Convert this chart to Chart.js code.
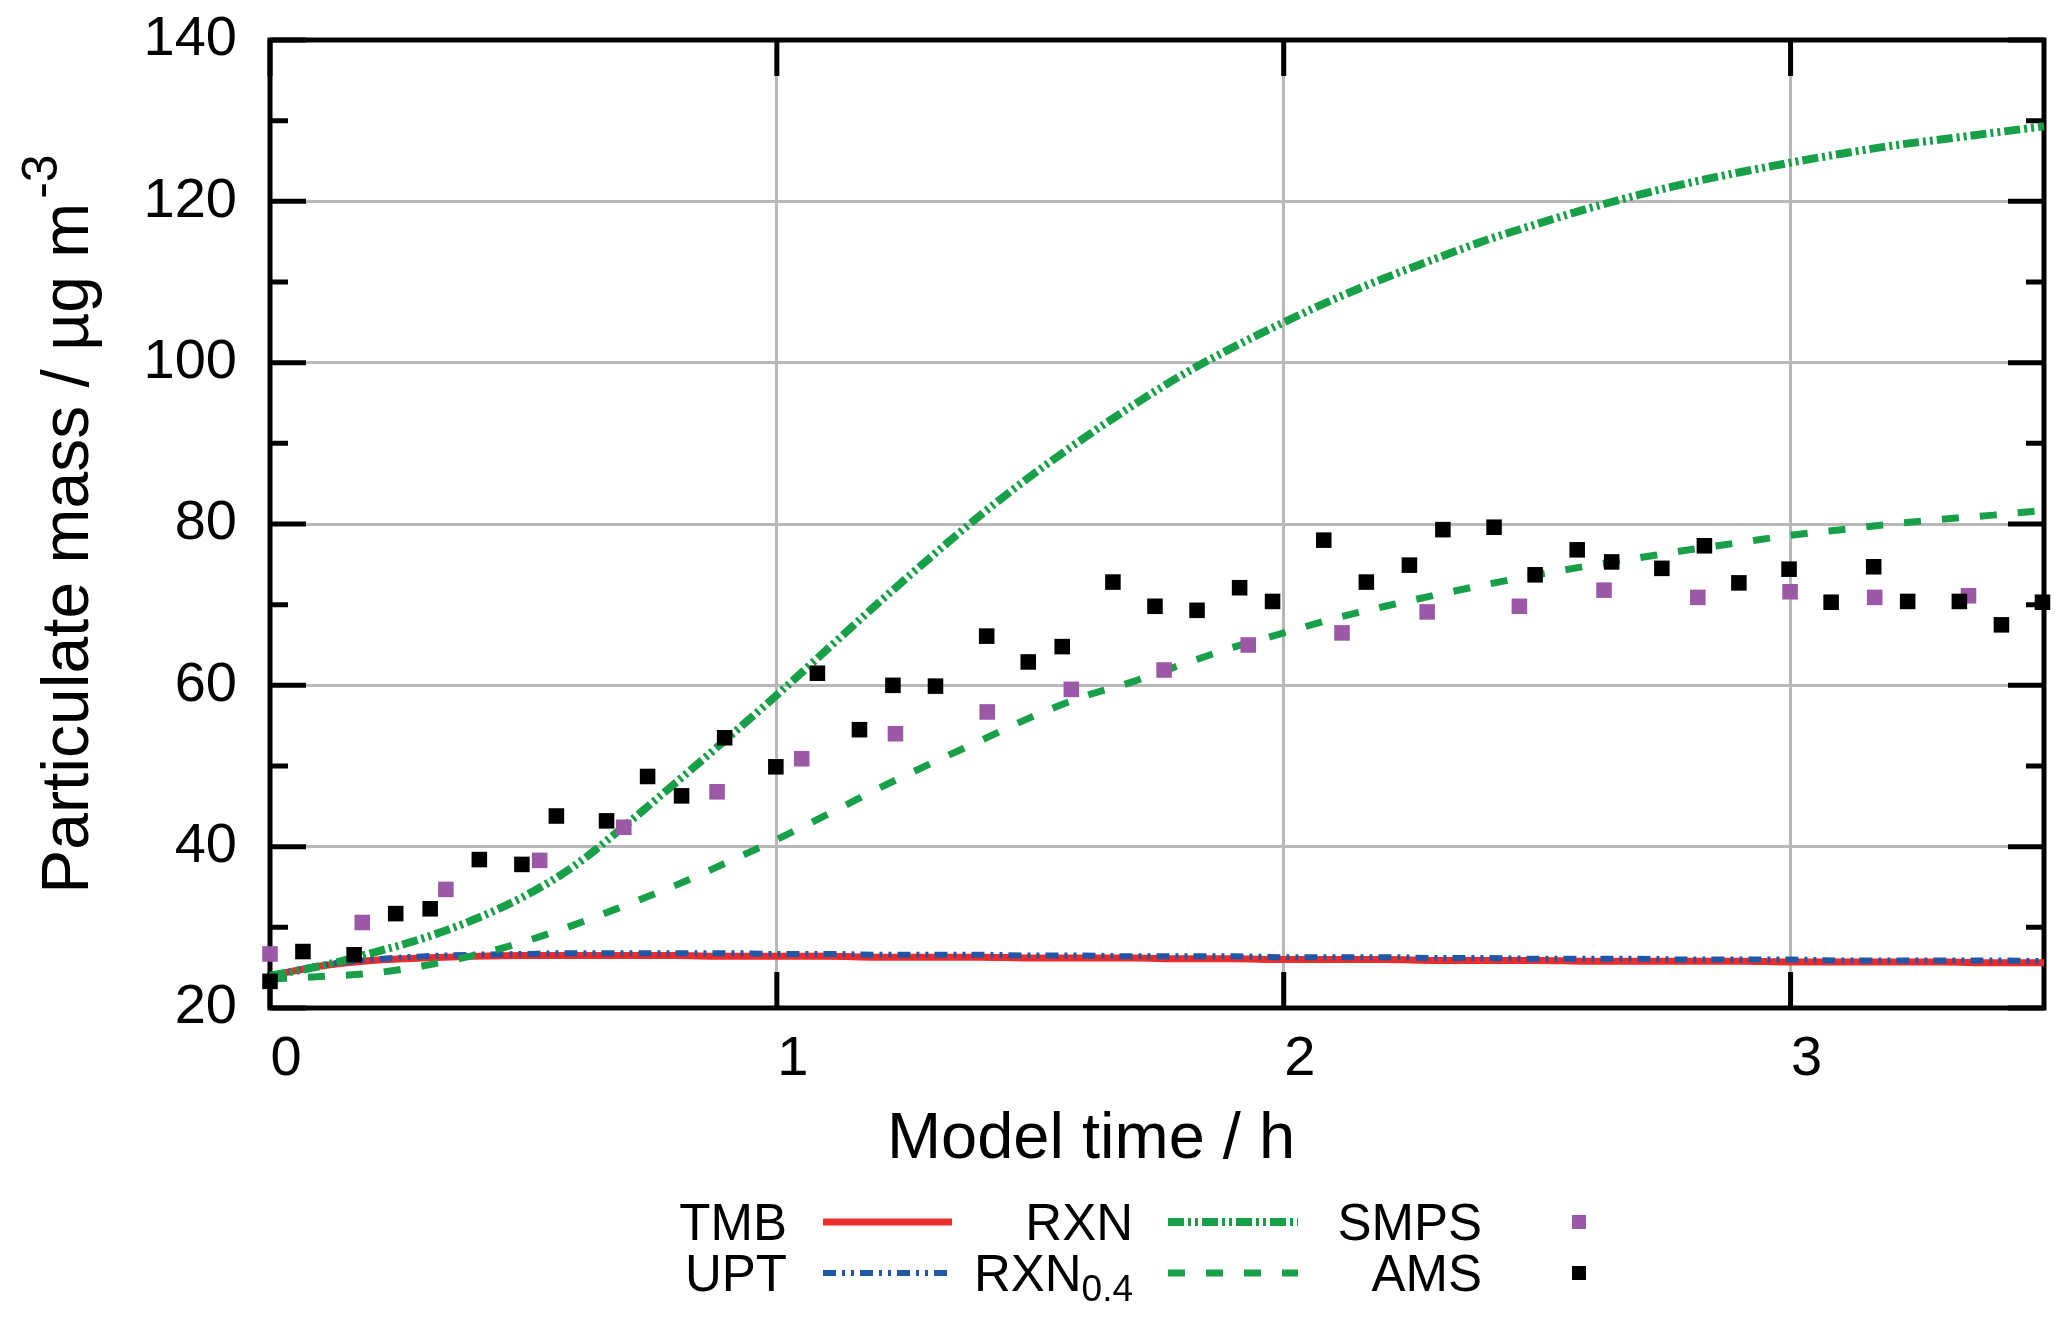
<!DOCTYPE html>
<html>
<head>
<meta charset="utf-8">
<script src="https://cdn.jsdelivr.net/npm/chart.js@4.4.1/dist/chart.umd.min.js"></script>
<style>
  html, body { margin: 0; padding: 0; background: #ffffff; }
  #wrap { width: 2067px; height: 1319px; position: relative; }
</style>
</head>
<body>
<div id="wrap"><canvas id="c"></canvas></div>
<script>
// ---------------- data ----------------
const modelTime = [0.0, 0.1, 0.2, 0.3, 0.4, 0.5, 0.6, 0.7, 0.8, 0.9,
                   1.0, 1.1, 1.2, 1.3, 1.4, 1.5, 1.6, 1.7, 1.8, 1.9,
                   2.0, 2.1, 2.2, 2.3, 2.4, 2.5, 2.6, 2.7, 2.8, 2.9,
                   3.0, 3.1, 3.2, 3.3, 3.4, 3.5];

const tmbMass = [24.0, 25.2, 25.9, 26.2, 26.4, 26.5, 26.5, 26.5, 26.5, 26.4,
                 26.4, 26.4, 26.3, 26.3, 26.3, 26.2, 26.2, 26.2, 26.1, 26.1,
                 26.0, 26.0, 26.0, 25.9, 25.9, 25.9, 25.8, 25.8, 25.8, 25.8,
                 25.7, 25.7, 25.7, 25.7, 25.6, 25.6];

const uptMass = [24.0, 25.3, 26.0, 26.4, 26.6, 26.7, 26.8, 26.8, 26.8, 26.8,
                 26.7, 26.7, 26.6, 26.6, 26.6, 26.5, 26.5, 26.4, 26.4, 26.4,
                 26.3, 26.3, 26.3, 26.2, 26.2, 26.1, 26.1, 26.1, 26.0, 26.0,
                 26.0, 25.9, 25.9, 25.9, 25.9, 25.8];

const rxnMass = [24.0, 25.2, 26.8, 28.6, 30.9, 33.8, 37.6, 42.6, 47.9, 53.3,
                 58.8, 64.5, 70.2, 75.7, 81.0, 85.9, 90.4, 94.6, 98.5, 101.9,
                 105.0, 107.9, 110.5, 112.9, 115.2, 117.2, 119.1, 120.8, 122.3, 123.6,
                 124.8, 125.9, 126.9, 127.7, 128.5, 129.3];

const rxn04Mass = [23.6, 23.9, 24.3, 25.2, 26.5, 28.2, 30.3, 32.7, 35.2, 38.0,
                   40.9, 44.0, 47.2, 50.2, 53.1, 56.0, 58.5, 60.4, 62.6, 64.7,
                   66.5, 68.3, 69.8, 71.2, 72.5, 73.7, 74.8, 75.8, 76.8, 77.7,
                   78.6, 79.3, 80.0, 80.6, 81.1, 81.7];

const smpsTime = [0.0, 0.182, 0.347, 0.532, 0.698, 0.882, 1.049, 1.234, 1.415, 1.581,
                  1.764, 1.930, 2.115, 2.283, 2.465, 2.632, 2.817, 2.999, 3.166, 3.351];
const smpsMass = [26.7, 30.6, 34.7, 38.3, 42.4, 46.8, 50.9, 54.0, 56.7, 59.5,
                  61.9, 65.0, 66.5, 69.1, 69.8, 71.8, 70.9, 71.6, 70.9, 71.1];

const amsTime = [0.0, 0.065, 0.166, 0.248, 0.316, 0.413, 0.497, 0.565, 0.664, 0.745,
                 0.812, 0.897, 0.998, 1.080, 1.163, 1.229, 1.313, 1.414, 1.496, 1.563,
                 1.663, 1.746, 1.829, 1.913, 1.978, 2.079, 2.163, 2.248, 2.314, 2.415,
                 2.496, 2.579, 2.647, 2.746, 2.830, 2.898, 2.997, 3.080, 3.164, 3.231,
                 3.333, 3.416, 3.497];
const amsMass = [23.3, 27.0, 26.6, 31.7, 32.3, 38.4, 37.8, 43.8, 43.2, 48.7,
                 46.3, 53.5, 49.9, 61.5, 54.5, 60.0, 59.9, 66.1, 62.9, 64.8,
                 72.8, 69.8, 69.3, 72.1, 70.4, 78.0, 72.8, 74.9, 79.3, 79.6,
                 73.7, 76.8, 75.3, 74.5, 77.3, 72.7, 74.4, 70.3, 74.7, 70.4,
                 70.4, 67.5, 70.3];

const xTickValues = [0, 1, 2, 3];
const yTickValues = [20, 40, 60, 80, 100, 120, 140];
const yMinorTickValues = [30, 50, 70, 90, 110, 130];

const xTitle = 'Model time / h';
const yTitleMain = 'Particulate mass / µg m';
const yTitleSup = '-3';

// ---------------- helpers ----------------
const pairs = (xs, ys) => xs.map((x, i) => ({ x: x, y: ys[i] }));
const FONT = "'Liberation Sans', Arial, Helvetica, sans-serif";
Chart.defaults.font.family = FONT;
Chart.defaults.color = '#000000';

// frame + inward tick marks (gnuplot style)
const frameTicks = {
  id: 'frameTicks',
  beforeDatasetsDraw(chart) {
    const { ctx, chartArea: a, scales } = chart;
    const xs = scales.x, ys = scales.y;
    ctx.save();
    ctx.strokeStyle = '#000';
    ctx.lineWidth = 5;
    ctx.lineCap = 'butt';
    ctx.beginPath();
    yTickValues.forEach(v => {
      const p = ys.getPixelForValue(v);
      ctx.moveTo(a.left, p); ctx.lineTo(a.left + 36, p);
      ctx.moveTo(a.right, p); ctx.lineTo(a.right - 36, p);
    });
    yMinorTickValues.forEach(v => {
      const p = ys.getPixelForValue(v);
      ctx.moveTo(a.left, p); ctx.lineTo(a.left + 18, p);
      ctx.moveTo(a.right, p); ctx.lineTo(a.right - 18, p);
    });
    xTickValues.forEach(v => {
      const p = xs.getPixelForValue(v);
      ctx.moveTo(p, a.bottom); ctx.lineTo(p, a.bottom - 36);
      ctx.moveTo(p, a.top); ctx.lineTo(p, a.top + 36);
    });
    ctx.stroke();
    ctx.lineJoin = 'miter';
    ctx.strokeRect(a.left, a.top, a.right - a.left, a.bottom - a.top);
    ctx.restore();
  }
};

// axis titles (y title has a real superscript)
const axisTitles = {
  id: 'axisTitles',
  afterDraw(chart) {
    const ctx = chart.ctx;
    const a = chart.chartArea;
    ctx.save();
    ctx.fillStyle = '#000';
    ctx.textBaseline = 'alphabetic';
    // x title
    ctx.font = '65px ' + FONT;
    ctx.textAlign = 'center';
    ctx.fillText(xTitle, 1091, 1158);
    // y title
    const mainFont = '66px ' + FONT, supFont = '50px ' + FONT;
    ctx.font = mainFont;
    const wMain = ctx.measureText(yTitleMain).width;
    ctx.font = supFont;
    const wSup = ctx.measureText(yTitleSup).width;
    const total = wMain + 4 + wSup;
    ctx.translate(88, (a.top + a.bottom) / 2);
    ctx.rotate(-Math.PI / 2);
    ctx.textAlign = 'left';
    ctx.font = mainFont;
    ctx.fillText(yTitleMain, -total / 2, 0);
    ctx.font = supFont;
    ctx.fillText(yTitleSup, -total / 2 + wMain + 4, -31);
    ctx.restore();
  }
};

// gnuplot-style key: right-aligned label followed by sample
const keyLayout = {
  fontSize: 51, subFontSize: 37,
  rows: [1222, 1273],
  columns: [
    { labelRight: 787, sampleFrom: 823, sampleTo: 952, labels: ['TMB', 'UPT'] },
    { labelRight: 1133, sampleFrom: 1168, sampleTo: 1298, labels: ['RXN', 'RXN0.4'] },
    { labelRight: 1482, markerX: 1579, labels: ['SMPS', 'AMS'] }
  ]
};
const keyPlugin = {
  id: 'keyPlugin',
  afterDraw(chart) {
    const ctx = chart.ctx;
    const sets = chart.data.datasets;
    ctx.save();
    keyLayout.columns.forEach(col => {
      col.labels.forEach((lab, r) => {
        const ds = sets.find(d => d.label === lab);
        const y = keyLayout.rows[r];
        const base = y + 0.358 * keyLayout.fontSize;
        ctx.fillStyle = '#000';
        ctx.textAlign = 'right';
        ctx.textBaseline = 'alphabetic';
        let right = col.labelRight;
        let main = lab;
        if (ds.legendSub) {
          main = lab.slice(0, lab.length - ds.legendSub.length);
          ctx.font = keyLayout.subFontSize + 'px ' + FONT;
          const w = ctx.measureText(ds.legendSub).width;
          ctx.fillText(ds.legendSub, right, base + 10);
          right -= w;
        }
        ctx.font = keyLayout.fontSize + 'px ' + FONT;
        ctx.fillText(main, right, base);
        if (ds.showLine) {
          ctx.strokeStyle = ds.borderColor;
          ctx.lineWidth = ds.borderWidth;
          ctx.lineCap = 'butt';
          ctx.setLineDash(ds.borderDash || []);
          ctx.beginPath();
          ctx.moveTo(col.sampleFrom, y);
          ctx.lineTo(col.sampleTo, y);
          ctx.stroke();
          ctx.setLineDash([]);
        } else {
          const s = 7;
          ctx.fillStyle = ds.backgroundColor;
          ctx.fillRect(col.markerX - s, y - s, 2 * s, 2 * s);
        }
      });
    });
    ctx.restore();
  }
};

const lineBase = { showLine: true, pointRadius: 0, pointHoverRadius: 0, fill: false,
                   cubicInterpolationMode: 'monotone', clip: false, borderCapStyle: 'butt' };

new Chart(document.getElementById('c'), {
  type: 'scatter',
  data: {
    datasets: [
      { label: 'AMS', data: pairs(amsTime, amsMass), showLine: false, pointStyle: 'rect',
        pointRadius: 11, pointHoverRadius: 11, backgroundColor: '#000000', borderColor: '#000000',
        borderWidth: 0, order: 0, clip: false },
      { label: 'SMPS', data: pairs(smpsTime, smpsMass), showLine: false, pointStyle: 'rect',
        pointRadius: 11, pointHoverRadius: 11, backgroundColor: '#9b58a6', borderColor: '#9b58a6',
        borderWidth: 0, order: 1, clip: false },
      Object.assign({ label: 'RXN0.4', legendSub: '0.4', data: pairs(modelTime, rxn04Mass),
        borderColor: '#17a048', borderWidth: 7, borderDash: [17, 21], order: 2 }, lineBase),
      Object.assign({ label: 'RXN', data: pairs(modelTime, rxnMass),
        borderColor: '#17a048', borderWidth: 8, borderDash: [16, 4, 3, 4, 3, 4], order: 3 }, lineBase),
      Object.assign({ label: 'UPT', data: pairs(modelTime, uptMass),
        borderColor: '#2156a6', borderWidth: 6, borderDash: [13, 6, 3, 6, 3, 6], order: 4 }, lineBase),
      Object.assign({ label: 'TMB', data: pairs(modelTime, tmbMass),
        borderColor: '#ee2b2b', borderWidth: 7, order: 5 }, lineBase)
    ]
  },
  options: {
    responsive: true,
    maintainAspectRatio: false,
    animation: false,
    events: [],
    layout: { padding: { left: 0, right: 23, top: 40, bottom: 131 } },
    plugins: { legend: { display: false }, tooltip: { enabled: false } },
    scales: {
      x: {
        type: 'linear', min: 0, max: 3.5,
        afterBuildTicks: s => { s.ticks = xTickValues.map(v => ({ value: v })); },
        afterFit: s => { s.height = 180; s.paddingLeft = 0; s.paddingRight = 0; },
        grid: { color: '#b8b8b8', lineWidth: 3, drawTicks: false },
        border: { display: false },
        ticks: { font: { size: 56 }, color: '#000', padding: 18, labelOffset: 16,
                 maxRotation: 0, autoSkip: false },
        title: { display: false }
      },
      y: {
        type: 'linear', min: 20, max: 140,
        afterBuildTicks: s => { s.ticks = yTickValues.map(v => ({ value: v })); },
        afterFit: s => { s.width = 270; s.paddingTop = 0; s.paddingBottom = 0; },
        grid: { color: '#b8b8b8', lineWidth: 3, drawTicks: false },
        border: { display: false },
        ticks: { font: { size: 56 }, color: '#000', padding: 33 },
        title: { display: false }
      }
    }
  },
  plugins: [frameTicks, axisTitles, keyPlugin]
});
</script>
</body>
</html>
